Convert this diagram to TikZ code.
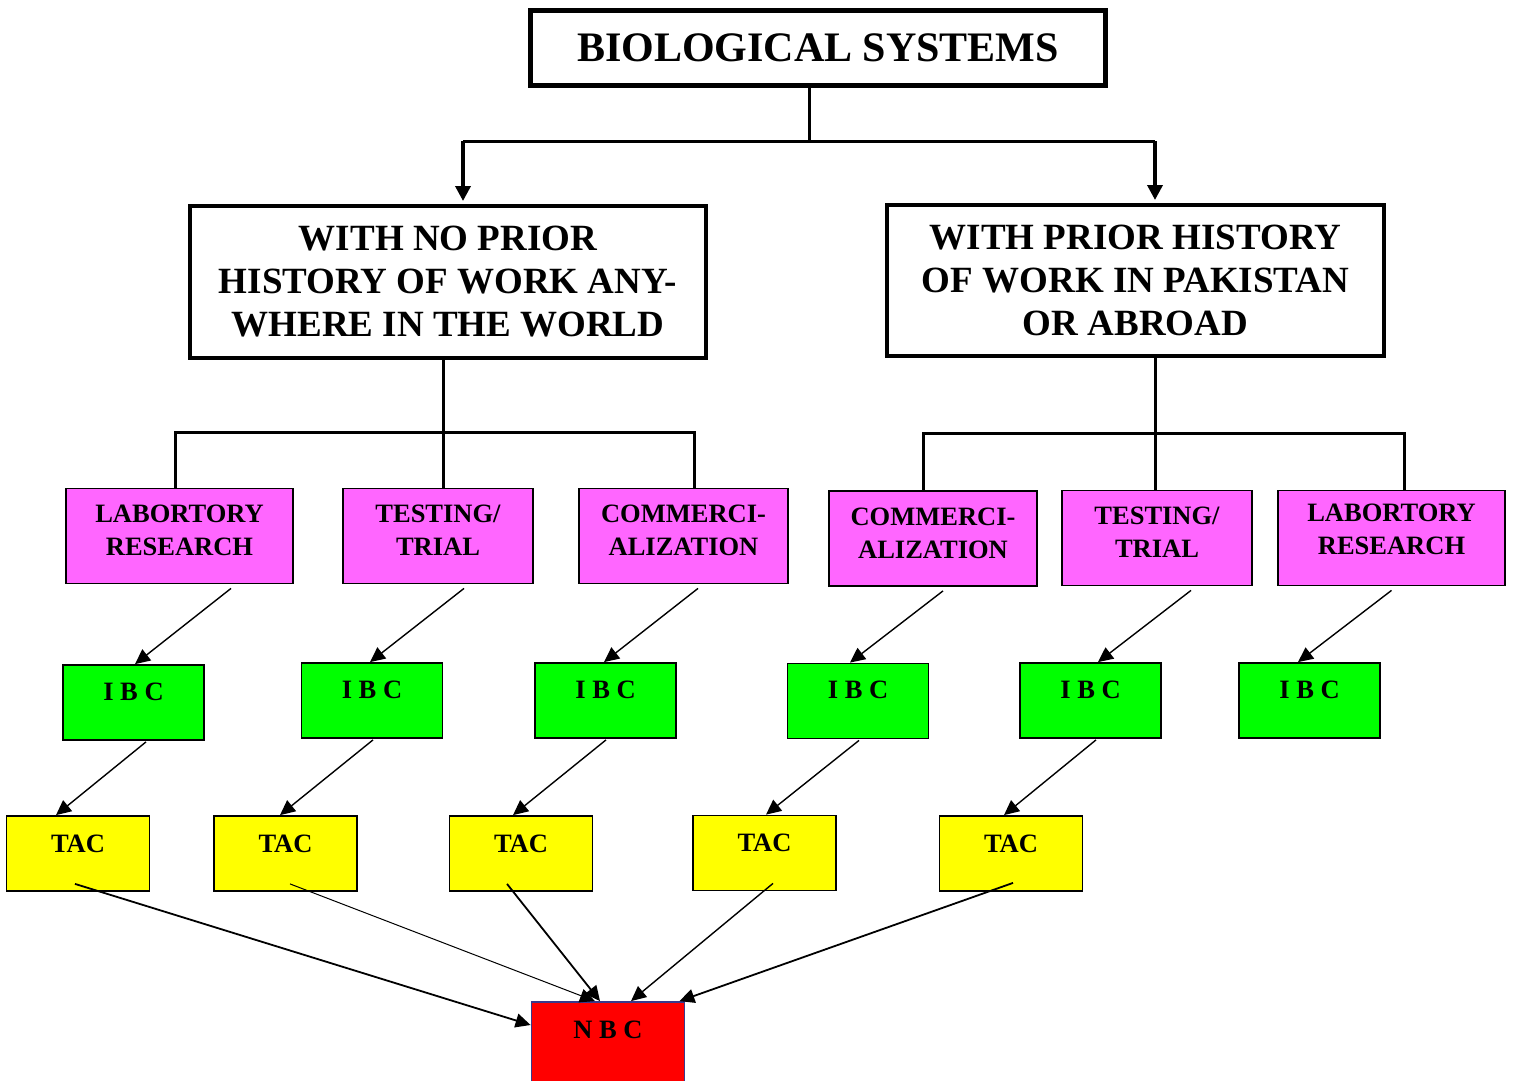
\documentclass[tikz,border=0pt]{standalone}
\usepackage{fontspec}
\setmainfont{Liberation Serif}
\usetikzlibrary{arrows.meta,positioning}
\definecolor{magbg}{HTML}{FF66FF}
\definecolor{ibcbg}{HTML}{00FF00}
\definecolor{tacbg}{HTML}{FFFF00}
\definecolor{nbcbg}{HTML}{FF0000}
\definecolor{nbcline}{HTML}{3A3A8C}
\begin{document}
\begin{tikzpicture}[x=1pt,y=-1pt,
    every node/.style={align=center,inner sep=0pt},
    topbox/.style={draw,line width=5pt,minimum width=575pt,minimum height=75pt,
      font=\fontsize{42}{48}\selectfont\bfseries},
    histbox/.style={draw,line width=4pt,font=\fontsize{37}{43}\selectfont\bfseries},
    smallbox/.style={draw,line width=1.8pt,font=\fontsize{26.5}{33}\selectfont\bfseries},
    workbox/.style={smallbox,fill=magbg,minimum height=95pt,text height=67pt,text depth=28pt},
    ibcbox/.style={smallbox,fill=ibcbg,minimum width=141pt,minimum height=75pt,
      text height=35pt,text depth=40pt},
    tacbox/.style={smallbox,fill=tacbg,minimum width=143pt,minimum height=75pt,
      text height=36pt,text depth=39pt},
    tree/.style={line width=3pt},
    arr/.style={-{Triangle[length=15pt,width=14pt]},line width=1.4pt}]
  \useasboundingbox (0,0) rectangle (1516,1080);
  \node[topbox] (bio) at (818,48) {BIOLOGICAL SYSTEMS};
  \node[histbox,minimum width=516pt,minimum height=152pt] (nohist) at (448,282)
    {WITH NO PRIOR\\HISTORY OF WORK ANY-\\WHERE IN THE WORLD};
  \node[histbox,minimum width=497pt,minimum height=151pt] (hist) at (1135.5,280.5)
    {WITH PRIOR HISTORY\\OF WORK IN PAKISTAN\\OR ABROAD};
  \node[workbox,minimum width=227pt] (lab1) at (179.5,536) {LABORTORY\\RESEARCH};
  \node[workbox,minimum width=190pt] (tst1) at (438,536) {TESTING/\\TRIAL};
  \node[workbox,minimum width=209pt] (com1) at (683.5,536) {COMMERCI-\\ALIZATION};
  \node[workbox,minimum width=208pt] (com2) at (933,538.5) {COMMERCI-\\ALIZATION};
  \node[workbox,minimum width=190pt] (tst2) at (1157,538) {TESTING/\\TRIAL};
  \node[workbox,minimum width=227pt,text height=64pt,text depth=31pt] (lab2) at (1391.5,538)
    {LABORTORY\\RESEARCH};
  \node[ibcbox] (ibc1) at (133.5,702.5) {I B C};
  \node[ibcbox] (ibc2) at (372,700.5) {I B C};
  \node[ibcbox] (ibc3) at (605.5,700.5) {I B C};
  \node[ibcbox] (ibc4) at (858,701) {I B C};
  \node[ibcbox] (ibc5) at (1090.5,700.5) {I B C};
  \node[ibcbox] (ibc6) at (1309.5,700.5) {I B C};
  \node[tacbox] (tac1) at (78,853.5) {TAC};
  \node[tacbox] (tac2) at (285.5,853.5) {TAC};
  \node[tacbox] (tac3) at (521,853.5) {TAC};
  \node[tacbox] (tac4) at (764.5,853) {TAC};
  \node[tacbox] (tac5) at (1011,853.5) {TAC};
  \node[smallbox,draw=nbcline,fill=nbcbg,minimum width=153pt,minimum height=100pt,
    text height=36pt,text depth=64pt] (nbc) at (608,1052) {N B C};

  \coordinate (bj) at (809,141);
  \coordinate (lj) at (463,141);
  \coordinate (rj) at (1155,141);
  \coordinate (nj) at (443,432);
  \coordinate (hj) at (1155,433);
  \draw[tree] (bio.south -| bj) -- (bj);
  \draw[tree] (lj) -- (rj);
  \draw[tree,line width=3.5pt,-{Triangle[length=15pt,width=15pt]}] (lj) -- ([yshift=3pt]lj |- nohist.north);
  \draw[tree,line width=3.5pt,-{Triangle[length=15pt,width=15pt]}] (rj) -- ([yshift=3pt]rj |- hist.north);
  \draw[tree] (nohist.south -| nj) -- (nj) -- (nj |- tst1.north);
  \draw[tree] ([xshift=-4.5pt]lab1.north) |- ([xshift=10.5pt]com1.north |- nj)
    -- ([xshift=10.5pt]com1.north);
  \draw[tree] (hist.south -| hj) -- (hj) -- (hj |- tst2.north);
  \draw[tree] ([xshift=-10pt]com2.north) |- ([xshift=12.5pt]lab2.north |- hj)
    -- ([xshift=12.5pt]lab2.north);

  \foreach \a/\b/\sx/\ex in {lab1/ibc1/51.5/1.5,tst1/ibc2/26/-2,com1/ibc3/14.5/-1.5,
      com2/ibc4/10/-8,tst2/ibc5/34/7.5,lab2/ibc6/0/-11.5}
    \draw[arr] ([xshift=\sx pt,yshift=-4pt]\a.south) -- ([xshift=\ex pt]\b.north);
  \foreach \a/\b/\sx/\ex in {ibc1/tac1/12.5/-22,ibc2/tac2/1/-5.5,ibc3/tac3/0.5/-8,
      ibc4/tac4/1/1.5,ibc5/tac5/5.5/-7}
    \draw[arr] ([xshift=\sx pt,yshift=-1pt]\a.south) -- ([xshift=\ex pt]\b.north);

  \draw[arr,line width=1.8pt] ([xshift=-3pt,yshift=8pt]tac1.south) -- ([yshift=27pt]nbc.west);
  \draw[arr,line width=1pt] ([xshift=4.5pt,yshift=8pt]tac2.south) -- ([xshift=-13pt]nbc.north);
  \draw[arr,line width=1.8pt] ([xshift=-14pt,yshift=8pt]tac3.south) -- ([xshift=-8pt]nbc.north);
  \draw[arr] ([xshift=8.5pt,yshift=8pt]tac4.south) -- ([xshift=23pt]nbc.north);
  \draw[arr,line width=1.8pt] ([xshift=2pt,yshift=9pt]tac5.south) -- ([xshift=-6pt]nbc.north east);
\end{tikzpicture}
\end{document}
